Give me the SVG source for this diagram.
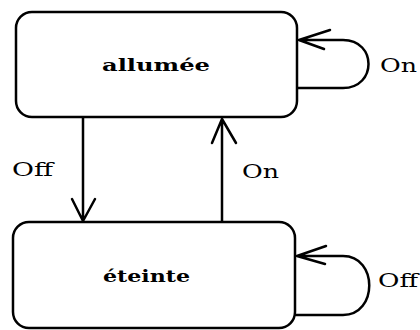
<svg xmlns="http://www.w3.org/2000/svg" width="420" height="330" viewBox="0 0 420 330">
  <style>
    .state { fill: #fff; stroke: #000; stroke-width: 2.5; }
    .edge { fill: none; stroke: #000; stroke-width: 2.5; stroke-linecap: round; stroke-linejoin: round; }
    text { font-family: 'DejaVu Serif', 'Liberation Serif', serif; fill: #000; }
    .name { font-weight: bold; font-size: 17px; }
    .evt { font-size: 19px; }
  </style>
  <rect width="420" height="330" fill="#fff"/>
  <g id="edges">
    <!-- allumée -> éteinte (Off) -->
    <path class="edge" d="M83 118 V221 M72 199 L83 221 L95 199"/>
    <!-- éteinte -> allumée (On) -->
    <path class="edge" d="M222 222 V119 M212 143 L222 119 L236 143"/>
    <!-- self loop on allumée (On) -->
    <path class="edge" d="M298 88 H343 C377 88 377 40 343 40 H299 M330 30 L299 40 L324 49"/>
    <!-- self loop on éteinte (Off) -->
    <path class="edge" d="M296 315 H343 C378 315 378 256 343 256 H297 M326 246 L297 256 L325 264"/>
    <text class="evt" x="12" y="176" textLength="41" lengthAdjust="spacingAndGlyphs">Off</text>
    <text class="evt" x="242" y="178" textLength="37" lengthAdjust="spacingAndGlyphs">On</text>
    <text class="evt" x="380" y="72" textLength="37" lengthAdjust="spacingAndGlyphs">On</text>
    <text class="evt" x="378" y="287" textLength="40" lengthAdjust="spacingAndGlyphs">Off</text>
  </g>
  <g id="allumee">
    <rect class="state" x="16" y="12" width="281" height="105" rx="16"/>
    <text class="name" x="102" y="71" textLength="108" lengthAdjust="spacingAndGlyphs">allumée</text>
  </g>
  <g id="eteinte">
    <rect class="state" x="13" y="222" width="282" height="106" rx="16"/>
    <text class="name" x="103" y="282" textLength="87" lengthAdjust="spacingAndGlyphs">éteinte</text>
  </g>
</svg>
